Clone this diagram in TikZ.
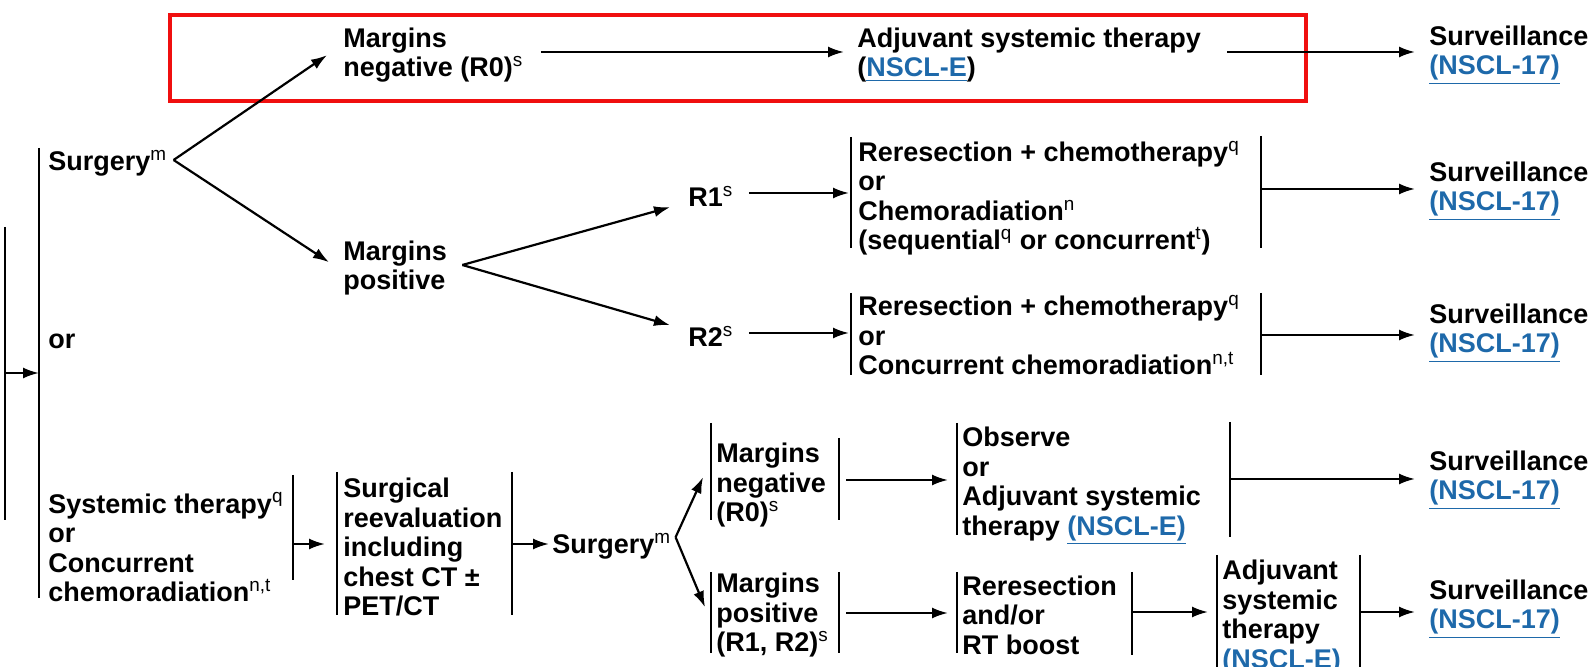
\documentclass[tikz,border=0pt]{standalone}
\usepackage{fontspec}
\setmainfont{Liberation Sans}
\usetikzlibrary{arrows.meta}
\definecolor{linkblue}{RGB}{30,105,170}
\definecolor{hlred}{RGB}{240,15,15}
\newcommand\sps[1]{\textsuperscript{\mdseries #1}}
\newcommand\lnk[1]{\textcolor{linkblue}{\underline{#1}}}
\begin{document}
\begin{tikzpicture}[x=0.5pt,y=-0.5pt,
  txt/.style={anchor=west,align=left,inner sep=0pt,yshift=-1.6pt,font=\fontsize{13.5}{14.75}\selectfont\bfseries},
  arr/.style={-{Latex[length=8pt,width=5.5pt]},line width=1.1pt},
  bar/.style={line width=1.1pt},
  hl/.style={draw=hlred,line width=1.6pt}]
\useasboundingbox (0,0) rectangle (1595,667);

% ---------- top row ----------
\node[txt] (mneg) at (343,52) {Margins\\negative (R0)\sps{s}};
\node[txt] (adj)  at (857,52) {Adjuvant systemic therapy\\(\lnk{NSCL-E})};
\node[txt] (sv1)  at (1429,52) {Surveillance\\\lnk{(NSCL-17)}};
\draw[hl] (170,15) rectangle (1306,101);
\draw[arr,shorten <=8.5pt,shorten >=6.5pt] ([yshift=1.6pt]mneg.east) -- ([yshift=1.6pt]mneg.east -| adj.west);
\draw[arr,shorten <=13pt,shorten >=7pt] ([yshift=1.6pt]adj.east) -- ([yshift=1.6pt]adj.east -| sv1.west);

% ---------- left brackets ----------
\coordinate (oTop) at (5,227);
\coordinate (oBot) at (5,520);
\coordinate (oMid) at (5,373);
\coordinate (bTop) at (39,148);
\coordinate (bBot) at (39,598);
\coordinate (bMid) at (39,373);
\draw[bar] (oTop) -- (oBot);
\draw[bar] (bTop) -- (bBot);
\draw[arr] (oMid) -- (bMid);

\node[txt] (surg1) at (48,160) {Surgery\sps{m}};
\node[txt] (or1)   at (48,338) {or};
\node[txt] (mpos)  at (343,265) {Margins\\positive};
\draw[arr] ([xshift=3pt,yshift=1.6pt]surg1.east) -- ([xshift=-8pt,yshift=0pt]mneg.west);
\draw[arr] ([xshift=3pt,yshift=1.6pt]surg1.east) -- ([xshift=-7pt,yshift=3pt]mpos.west);

% ---------- R1 / R2 ----------
\node[txt] (r1) at (688,193) {R1\sps{s}};
\node[txt] (r2) at (688,333) {R2\sps{s}};
\draw[arr] ([xshift=7.5pt,yshift=1.6pt]mpos.east) -- ([xshift=-9pt,yshift=-5.5pt]r1.west);
\draw[arr] ([xshift=7.5pt,yshift=1.6pt]mpos.east) -- ([xshift=-9pt,yshift=5.5pt]r2.west);

\node[txt] (rr1) at (858,195) {Reresection + chemotherapy\sps{q}\\or\\Chemoradiation\sps{n}\\(sequential\sps{q} or concurrent\sps{t})};
\coordinate (rr1L) at (851,193);
\coordinate (rr1R) at (1261,189);
\draw[bar] (851,137) -- (851,248);
\draw[bar] (1261,136) -- (1261,248);
\draw[arr,shorten <=7.5pt,shorten >=1pt] (r1.east |- rr1L) -- (rr1L);
\node[txt] (sv2) at (1429,188) {Surveillance\\\lnk{(NSCL-17)}};
\draw[arr,shorten >=7pt] (rr1R) -- (rr1R -| sv2.west);

\node[txt] (rr2) at (858,332) {Reresection + chemotherapy\sps{q}\\or\\Concurrent chemoradiation\sps{n,t}};
\coordinate (rr2L) at (851,333);
\coordinate (rr2R) at (1261,335);
\draw[bar] (851,293) -- (851,375);
\draw[bar] (1261,293) -- (1261,375);
\draw[arr,shorten <=7.5pt,shorten >=1pt] (r2.east |- rr2L) -- (rr2L);
\node[txt] (sv3) at (1429,330) {Surveillance\\\lnk{(NSCL-17)}};
\draw[arr,shorten >=7pt] (rr2R) -- (rr2R -| sv3.west);

% ---------- bottom branch ----------
\node[txt] (st) at (48,544) {Systemic therapy\sps{q}\\or\\Concurrent\\chemoradiation\sps{n,t}};
\coordinate (stR) at (293,544);
\draw[bar] (293,475) -- (293,580);

\node[txt] (sr) at (343,544) {Surgical\\reevaluation\\including\\chest CT ±\\PET/CT};
\coordinate (srR) at (512,544);
\draw[bar] (337,472) -- (337,615);
\draw[bar] (512,472) -- (512,615);
\draw[arr,shorten >=9pt] (stR) -- (stR -| sr.west);

\node[txt] (surg2) at (552,543) {Surgery\sps{m}};
\draw[arr,shorten >=1.5pt] (srR) -- (srR -| surg2.west);

\node[txt] (mn) at (716,482) {Margins\\negative\\(R0)\sps{s}};
\draw[bar] (711,423) -- (711,520);
\draw[bar] (839,438) -- (839,520);
\node[txt] (mp2) at (716,612) {Margins\\positive\\(R1, R2)\sps{s}};
\draw[bar] (711,572) -- (711,653);
\draw[bar] (839,572) -- (839,653);
\draw[arr] ([xshift=2pt,yshift=4.5pt]surg2.east) -- ([xshift=-6.5pt,yshift=4pt]mn.west);
\draw[arr] ([xshift=2pt,yshift=4.5pt]surg2.east) -- ([xshift=-5.5pt,yshift=4pt]mp2.west);

\node[txt] (ob) at (962,483) {Observe\\or\\Adjuvant systemic\\therapy \lnk{(NSCL-E)}};
\draw[bar] (957,423) -- (957,535);
\draw[bar] (1230,422) -- (1230,537);
\coordinate (mnR) at (839,480);
\coordinate (obL) at (957,480);
\coordinate (obR) at (1230,479);
\draw[arr,shorten <=3.5pt,shorten >=4.5pt] (mnR) -- (obL);
\node[txt] (sv4) at (1429,477) {Surveillance\\\lnk{(NSCL-17)}};
\draw[arr,shorten >=7pt] (obR) -- (obR -| sv4.west);

\node[txt] (rr) at (962,612) {Reresection\\and/or\\RT boost};
\draw[bar] (957,572) -- (957,653);
\draw[bar] (1132,572) -- (1132,655);
\coordinate (mp2R) at (839,613);
\coordinate (rrL) at (957,613);
\coordinate (rrR) at (1132,612);
\draw[arr,shorten <=3.5pt,shorten >=4.5pt] (mp2R) -- (rrL);

\node[txt] (ad) at (1222,616) {Adjuvant\\systemic\\therapy\\\lnk{(NSCL-E)}};
\draw[bar] (1217,555) -- (1217,690);
\draw[bar] (1360,555) -- (1360,690);
\coordinate (adL) at (1217,612);
\coordinate (adR) at (1360,612);
\draw[arr,shorten >=4.5pt] (rrR) -- (adL);
\node[txt] (sv5) at (1429,606) {Surveillance\\\lnk{(NSCL-17)}};
\draw[arr,shorten >=7pt] (adR) -- (adR -| sv5.west);
\end{tikzpicture}
\end{document}
